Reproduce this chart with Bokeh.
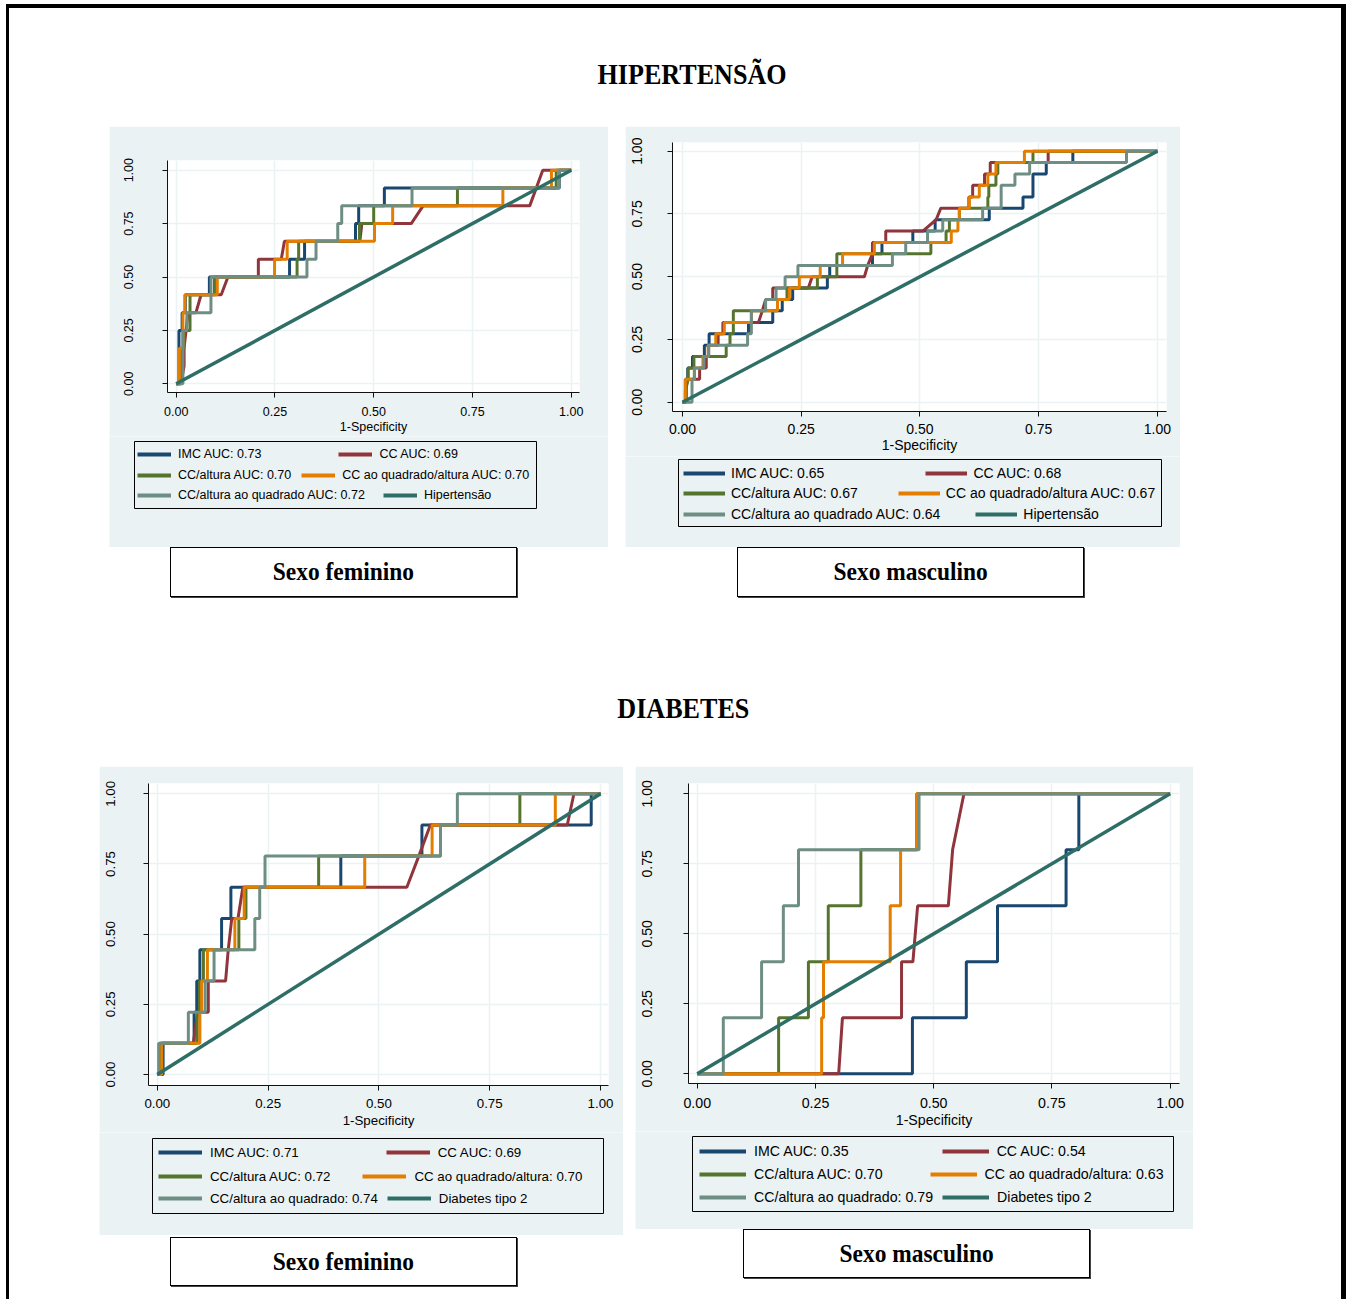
from bokeh.plotting import figure
from bokeh.models import (Range1d, FixedTicker, NumeralTickFormatter, Legend, LegendItem,
                          BoxAnnotation, Div, Spacer)
from bokeh.layouts import column, row
from bokeh.embed import file_html
from bokeh.resources import INLINE

# ---------------- data ----------------
TICKS = [0.0, 0.25, 0.50, 0.75, 1.00]
SERIES_COLORS = ["#1A476F", "#90353B", "#55752F", "#E37E00", "#6E8E84"]
REF_COLOR = "#2E6E67"
REF_X = [0.0, 1.0]
REF_Y = [0.0, 1.0]

# Hipertensão - sexo feminino
HF_LABELS = ["IMC AUC: 0.73", "CC AUC: 0.69", "CC/altura AUC: 0.70",
             "CC ao quadrado/altura AUC: 0.70", "CC/altura ao quadrado AUC: 0.72", "Hipertensão"]
HF_IMC_X = [0, 0.007, 0.007, 0.015, 0.015, 0.023, 0.023, 0.084, 0.084, 0.287, 0.287, 0.325, 0.325, 0.454, 0.454, 0.462, 0.462, 0.527, 0.527, 0.970, 0.970, 1]
HF_IMC_Y = [0, 0, 0.25, 0.25, 0.333, 0.333, 0.417, 0.417, 0.5, 0.5, 0.583, 0.583, 0.667, 0.667, 0.75, 0.75, 0.833, 0.833, 0.917, 0.917, 1, 1]
HF_CC_X = [0, 0.012, 0.020, 0.020, 0.025, 0.030, 0.050, 0.063, 0.114, 0.131, 0.208, 0.208, 0.266, 0.274, 0.465, 0.470, 0.595, 0.625, 0.895, 0.928, 1]
HF_CC_Y = [0, 0, 0.083, 0.167, 0.25, 0.333, 0.333, 0.417, 0.417, 0.5, 0.5, 0.583, 0.583, 0.667, 0.667, 0.75, 0.75, 0.833, 0.833, 1, 1]
HF_CCA_X = [0, 0.011, 0.011, 0.020, 0.020, 0.035, 0.035, 0.097, 0.097, 0.306, 0.306, 0.310, 0.310, 0.464, 0.464, 0.500, 0.500, 0.712, 0.712, 0.962, 0.962, 1]
HF_CCA_Y = [0, 0, 0.167, 0.167, 0.25, 0.25, 0.417, 0.417, 0.5, 0.5, 0.583, 0.583, 0.667, 0.667, 0.75, 0.75, 0.833, 0.833, 0.917, 0.917, 1, 1]
HF_CCQA_X = [0, 0.008, 0.008, 0.017, 0.017, 0.022, 0.022, 0.104, 0.104, 0.249, 0.249, 0.281, 0.281, 0.502, 0.502, 0.548, 0.548, 0.827, 0.827, 0.950, 0.950, 1]
HF_CCQA_Y = [0, 0, 0.167, 0.167, 0.333, 0.333, 0.417, 0.417, 0.5, 0.5, 0.583, 0.583, 0.667, 0.667, 0.75, 0.75, 0.833, 0.833, 0.917, 0.917, 1, 1]
HF_CCAQ_X = [0, 0.017, 0.017, 0.027, 0.027, 0.088, 0.088, 0.331, 0.331, 0.354, 0.354, 0.409, 0.409, 0.419, 0.419, 0.597, 0.597, 0.970, 0.970, 1]
HF_CCAQ_Y = [0, 0, 0.25, 0.25, 0.333, 0.333, 0.5, 0.5, 0.583, 0.583, 0.667, 0.667, 0.75, 0.75, 0.833, 0.833, 0.917, 0.917, 1, 1]

# Hipertensão - sexo masculino
HM_LABELS = ["IMC AUC: 0.65", "CC AUC: 0.68", "CC/altura AUC: 0.67",
             "CC ao quadrado/altura AUC: 0.67", "CC/altura ao quadrado AUC: 0.64", "Hipertensão"]
HM_IMC_X = [0, 0.006, 0.006, 0.011, 0.011, 0.021, 0.021, 0.046, 0.046, 0.056, 0.056, 0.139, 0.139, 0.190, 0.190, 0.210, 0.210, 0.232, 0.232, 0.305, 0.305, 0.310, 0.310, 0.400, 0.400, 0.420, 0.420, 0.485, 0.485, 0.532, 0.532, 0.646, 0.646, 0.717, 0.717, 0.738, 0.738, 0.766, 0.766, 0.822, 0.822, 1]
HM_IMC_Y = [0, 0, 0.091, 0.091, 0.136, 0.136, 0.182, 0.182, 0.227, 0.227, 0.273, 0.273, 0.318, 0.318, 0.364, 0.364, 0.409, 0.409, 0.455, 0.455, 0.5, 0.5, 0.545, 0.545, 0.591, 0.591, 0.636, 0.636, 0.682, 0.682, 0.727, 0.727, 0.773, 0.773, 0.818, 0.818, 0.909, 0.909, 0.955, 0.955, 1, 1]
HM_CC_X = [0, 0.008, 0.008, 0.036, 0.036, 0.050, 0.050, 0.055, 0.055, 0.075, 0.075, 0.085, 0.085, 0.160, 0.168, 0.175, 0.190, 0.190, 0.265, 0.273, 0.383, 0.390, 0.400, 0.400, 0.428, 0.428, 0.506, 0.534, 0.544, 0.603, 0.603, 0.611, 0.611, 0.636, 0.636, 0.648, 0.648, 0.770, 0.770, 1]
HM_CC_Y = [0, 0, 0.091, 0.091, 0.136, 0.136, 0.182, 0.182, 0.227, 0.227, 0.273, 0.273, 0.318, 0.318, 0.364, 0.409, 0.409, 0.455, 0.455, 0.5, 0.5, 0.545, 0.591, 0.636, 0.636, 0.682, 0.682, 0.727, 0.773, 0.773, 0.818, 0.818, 0.864, 0.864, 0.909, 0.909, 0.955, 0.955, 1, 1]
HM_CCA_X = [0, 0.006, 0.006, 0.012, 0.012, 0.024, 0.024, 0.092, 0.092, 0.100, 0.100, 0.107, 0.107, 0.200, 0.200, 0.220, 0.220, 0.284, 0.284, 0.325, 0.325, 0.523, 0.523, 0.555, 0.555, 0.562, 0.562, 0.583, 0.583, 0.643, 0.643, 0.645, 0.645, 0.660, 0.660, 0.664, 0.664, 0.738, 0.738, 1]
HM_CCA_Y = [0, 0, 0.045, 0.091, 0.136, 0.136, 0.182, 0.182, 0.227, 0.227, 0.273, 0.273, 0.364, 0.364, 0.409, 0.409, 0.455, 0.455, 0.5, 0.5, 0.591, 0.591, 0.636, 0.636, 0.682, 0.682, 0.727, 0.727, 0.773, 0.773, 0.818, 0.818, 0.864, 0.864, 0.909, 0.909, 0.955, 0.955, 1, 1]
HM_CCQA_X = [0, 0.006, 0.006, 0.025, 0.025, 0.043, 0.043, 0.054, 0.054, 0.070, 0.070, 0.088, 0.088, 0.145, 0.145, 0.200, 0.200, 0.225, 0.225, 0.246, 0.246, 0.290, 0.290, 0.337, 0.337, 0.404, 0.404, 0.566, 0.566, 0.580, 0.580, 0.583, 0.583, 0.604, 0.604, 0.625, 0.625, 0.643, 0.643, 0.660, 0.660, 0.720, 0.720, 1]
HM_CCQA_Y = [0, 0, 0.091, 0.091, 0.136, 0.136, 0.182, 0.182, 0.227, 0.227, 0.273, 0.273, 0.318, 0.318, 0.364, 0.364, 0.409, 0.409, 0.455, 0.455, 0.5, 0.5, 0.545, 0.545, 0.591, 0.591, 0.636, 0.636, 0.682, 0.682, 0.727, 0.727, 0.773, 0.773, 0.818, 0.818, 0.864, 0.864, 0.909, 0.909, 0.955, 0.955, 1, 1]
HM_CCAQ_X = [0, 0.020, 0.020, 0.025, 0.025, 0.045, 0.045, 0.055, 0.055, 0.137, 0.137, 0.145, 0.145, 0.175, 0.175, 0.197, 0.197, 0.216, 0.216, 0.243, 0.243, 0.442, 0.442, 0.470, 0.470, 0.516, 0.516, 0.548, 0.548, 0.632, 0.632, 0.671, 0.671, 0.700, 0.700, 0.731, 0.731, 0.935, 0.935, 1]
HM_CCAQ_Y = [0, 0, 0.091, 0.091, 0.136, 0.136, 0.182, 0.182, 0.227, 0.227, 0.273, 0.273, 0.364, 0.364, 0.409, 0.409, 0.455, 0.455, 0.5, 0.5, 0.545, 0.545, 0.591, 0.591, 0.636, 0.636, 0.682, 0.682, 0.727, 0.727, 0.773, 0.773, 0.864, 0.864, 0.909, 0.909, 0.955, 0.955, 1, 1]

# Diabetes - sexo feminino
DF_LABELS = ["IMC AUC: 0.71", "CC AUC: 0.69", "CC/altura AUC: 0.72",
             "CC ao quadrado/altura: 0.70", "CC/altura ao quadrado: 0.74", "Diabetes tipo 2"]
DF_IMC_X = [0, 0.013, 0.013, 0.083, 0.083, 0.089, 0.089, 0.096, 0.096, 0.145, 0.145, 0.166, 0.166, 0.414, 0.414, 0.597, 0.597, 0.979, 0.979, 1]
DF_IMC_Y = [0, 0, 0.111, 0.111, 0.222, 0.222, 0.333, 0.333, 0.444, 0.444, 0.556, 0.556, 0.667, 0.667, 0.778, 0.778, 0.889, 0.889, 1, 1]
DF_CC_X = [0, 0.008, 0.008, 0.081, 0.091, 0.115, 0.115, 0.154, 0.160, 0.168, 0.182, 0.193, 0.563, 0.590, 0.616, 0.925, 0.940, 1]
DF_CC_Y = [0, 0, 0.111, 0.111, 0.222, 0.222, 0.333, 0.333, 0.444, 0.556, 0.556, 0.667, 0.667, 0.778, 0.889, 0.889, 1, 1]
DF_CCA_X = [0, 0.006, 0.006, 0.090, 0.090, 0.095, 0.095, 0.104, 0.104, 0.184, 0.184, 0.200, 0.200, 0.364, 0.364, 0.639, 0.639, 0.818, 0.818, 1]
DF_CCA_Y = [0, 0, 0.111, 0.111, 0.222, 0.222, 0.333, 0.333, 0.444, 0.444, 0.556, 0.556, 0.667, 0.667, 0.778, 0.778, 0.889, 0.889, 1, 1]
DF_CCQA_X = [0, 0.010, 0.010, 0.096, 0.096, 0.100, 0.100, 0.113, 0.113, 0.175, 0.175, 0.196, 0.196, 0.468, 0.468, 0.620, 0.620, 0.898, 0.898, 1]
DF_CCQA_Y = [0, 0, 0.111, 0.111, 0.222, 0.222, 0.333, 0.333, 0.444, 0.444, 0.556, 0.556, 0.667, 0.667, 0.778, 0.778, 0.889, 0.889, 1, 1]
DF_CCAQ_X = [0, 0.003, 0.003, 0.070, 0.070, 0.108, 0.108, 0.128, 0.128, 0.220, 0.220, 0.231, 0.231, 0.243, 0.243, 0.639, 0.639, 0.677, 0.677, 1]
DF_CCAQ_Y = [0, 0, 0.111, 0.111, 0.222, 0.222, 0.333, 0.333, 0.444, 0.444, 0.556, 0.556, 0.667, 0.667, 0.778, 0.778, 0.889, 0.889, 1, 1]

# Diabetes - sexo masculino
DM_LABELS = ["IMC AUC: 0.35", "CC AUC: 0.54", "CC/altura AUC: 0.70",
             "CC ao quadrado/altura: 0.63", "CC/altura ao quadrado: 0.79", "Diabetes tipo 2"]
DM_IMC_X = [0, 0.455, 0.455, 0.569, 0.569, 0.635, 0.635, 0.780, 0.780, 0.807, 0.807, 1]
DM_IMC_Y = [0, 0, 0.2, 0.2, 0.4, 0.4, 0.6, 0.6, 0.8, 0.8, 1, 1]
DM_CC_X = [0, 0.299, 0.307, 0.432, 0.432, 0.456, 0.466, 0.531, 0.540, 0.564, 1]
DM_CC_Y = [0, 0, 0.2, 0.2, 0.4, 0.4, 0.6, 0.6, 0.8, 1, 1]
DM_CCA_X = [0, 0.172, 0.172, 0.235, 0.235, 0.277, 0.277, 0.346, 0.346, 0.464, 0.464, 1]
DM_CCA_Y = [0, 0, 0.2, 0.2, 0.4, 0.4, 0.6, 0.6, 0.8, 0.8, 1, 1]
DM_CCQA_X = [0, 0.263, 0.263, 0.267, 0.267, 0.408, 0.408, 0.430, 0.430, 0.464, 0.464, 1]
DM_CCQA_Y = [0, 0, 0.2, 0.2, 0.4, 0.4, 0.6, 0.6, 0.8, 0.8, 1, 1]
DM_CCAQ_X = [0, 0.055, 0.055, 0.136, 0.136, 0.182, 0.182, 0.214, 0.214, 0.469, 0.469, 1]
DM_CCAQ_Y = [0, 0, 0.2, 0.2, 0.4, 0.4, 0.6, 0.6, 0.8, 0.8, 1, 1]

# ---------------- styling / layout ----------------
BG = "#EAF2F3"
SANS = "Liberation Sans"
SERIF = "Liberation Serif"

# positions in page pixels of the reference
P1 = dict(x=110, y=127, w=499, h=421, split=437, frame=(168, 161, 580, 393), xr=(-0.022, 1.021), yr=(-0.0407, 1.0454),
          fs=12.5, ystand=29, xstand=9, xlab=1, gw=34, ls=7, lx=138, rows=(455, 475.7, 495.7), sp=(77, 10, 18),
          box=(135, 442, 537, 509))
P2 = dict(x=626, y=127, w=555, h=421, split=457, frame=(673, 143, 1167, 412), xr=(-0.0211, 1.0192), yr=(-0.037, 1.0347),
          fs=14, ystand=25, xstand=7, xlab=0, gw=42, ls=6, lx=684, rows=(474.3, 494.3, 515), sp=(101, 40, 35),
          box=(679, 460, 1162, 527))
P3 = dict(x=100, y=767, w=524, h=469, split=1133, frame=(149, 784, 609, 1086), xr=(-0.0199, 1.018), yr=(-0.0392, 1.0367),
          fs=13.3, ystand=28, xstand=8, xlab=2, gw=44, ls=8, lx=159, rows=(1153.3, 1177.3, 1199.3), sp=(87, 32, 9),
          box=(153, 1139, 604, 1214))
P4 = dict(x=636, y=767, w=558, h=463, split=1132, frame=(689, 784, 1180, 1084), xr=(-0.0186, 1.0199), yr=(-0.0346, 1.0368),
          fs=14.2, ystand=31, xstand=9, xlab=1, gw=47, ls=8, lx=700, rows=(1151.7, 1175, 1197.7), sp=(93, 47, 9),
          box=(693, 1137, 1174, 1212))


def make_plot(P, curves):
    fl, ft, fr, fb = P["frame"]
    h = P["split"] - P["y"]
    p = figure(width=P["w"], height=h, x_range=Range1d(*P["xr"]), y_range=Range1d(*P["yr"]),
               output_backend="svg", toolbar_location=None,
               min_border_left=fl - P["x"], min_border_right=P["x"] + P["w"] - fr,
               min_border_top=ft - P["y"], min_border_bottom=P["split"] - fb)
    p.background_fill_color = "white"
    p.border_fill_color = BG
    p.outline_line_color = None
    p.grid.grid_line_color = BG
    p.grid.grid_line_width = 1.5
    fs = f"{P['fs']}px"
    for ax in (p.xaxis[0], p.yaxis[0]):
        ax.ticker = FixedTicker(ticks=TICKS)
        ax.formatter = NumeralTickFormatter(format="0.00")
        ax.major_tick_out = 5
        ax.major_tick_in = 0
        ax.minor_tick_out = 0
        ax.minor_tick_in = 0
        ax.axis_line_color = "#111111"
        ax.major_tick_line_color = "#111111"
        ax.major_label_text_font = SANS
        ax.major_label_text_font_size = fs
        ax.major_label_text_color = "#000000"
    p.yaxis.major_label_orientation = "vertical"
    p.yaxis.major_label_standoff = P["ystand"]
    p.xaxis.major_label_standoff = P["xstand"]
    p.xaxis.axis_label = "1-Specificity"
    p.xaxis.axis_label_text_font = SANS
    p.xaxis.axis_label_text_font_size = fs
    p.xaxis.axis_label_text_font_style = "normal"
    p.xaxis.axis_label_text_color = "#000000"
    p.xaxis.axis_label_standoff = P["xlab"]
    for (xs, ys), c in zip(curves, SERIES_COLORS):
        p.line(xs, ys, line_color=c, line_width=3)
    p.line(REF_X, REF_Y, line_color=REF_COLOR, line_width=3.5)
    return p


def make_legend(P, curves, labels):
    x0, y0 = P["x"], P["split"]
    w, h = P["w"], P["y"] + P["h"] - P["split"]
    q = figure(width=w, height=h, x_range=Range1d(0, w), y_range=Range1d(h, 0),
               output_backend="svg", toolbar_location=None, x_axis_type=None, y_axis_type=None,
               min_border=0, min_border_left=0, min_border_right=0, min_border_top=0, min_border_bottom=0)
    q.outline_line_color = None
    q.background_fill_color = BG
    q.border_fill_color = BG
    # hidden copies of the curves: only their legend glyphs are shown
    rends = [q.line(xs, ys, line_color=c, line_width=4, visible=False)
             for (xs, ys), c in zip(curves, SERIES_COLORS)]
    rends.append(q.line(REF_X, REF_Y, line_color=REF_COLOR, line_width=4, visible=False))
    bl, bt, br, bb = P["box"]
    q.add_layout(BoxAnnotation(left=bl - x0, right=br - x0, top=bt - y0, bottom=bb - y0,
                               fill_color=None, fill_alpha=0, line_color="#000000",
                               line_alpha=1, line_width=1))
    lh = 16
    fs = f"{P['fs']}px"
    for r_i, (i1, i2) in enumerate([(0, 1), (2, 3), (4, 5)]):
        items = [LegendItem(label=labels[i1], renderers=[rends[i1]]),
                 LegendItem(label=labels[i2], renderers=[rends[i2]])]
        leg = Legend(items=items, orientation="horizontal",
                     location=(P["lx"] - x0, (y0 + h) - (P["rows"][r_i] + lh / 2)),
                     spacing=P["sp"][r_i], padding=0, margin=0,
                     glyph_width=P["gw"], glyph_height=lh, label_height=lh,
                     label_standoff=P["ls"], label_text_font=SANS, label_text_font_size=fs,
                     label_text_color="#000000", border_line_color=None, background_fill_alpha=0,
                     inactive_fill_alpha=0)
        q.add_layout(leg, "center")
    return q


def title_div(text, w, h, pad_top, pad_left):
    html = (f'<div style="width:{w}px;height:{h}px;box-sizing:border-box;padding-top:{pad_top}px;'
            f'padding-left:{pad_left}px;text-align:center;font-family:\'{SERIF}\';font-weight:bold;'
            f'font-size:29px;line-height:32px;color:#000;">'
            f'<span style="display:inline-block;transform:scaleX(0.9)">{text}</span></div>')
    return Div(text=html, width=w, height=h, margin=0)


def box_div(text, w=347, h=50):
    html = (f'<div style="width:{w}px;height:{h}px;box-sizing:border-box;border:1px solid #000;'
            f'box-shadow:1px 1px 0 #444;background:#fff;display:flex;align-items:center;'
            f'justify-content:center;font-family:\'{SERIF}\';font-weight:bold;font-size:26px;color:#000;">'
            f'<span style="display:inline-block;transform:scaleX(0.9)">{text}</span></div>')
    return Div(text=html, width=w + 2, height=h + 2, margin=0)


def panel(P, curves, labels):
    # each figure wrapped in its own row so the two frames are not aligned
    return column(row(make_plot(P, curves)), row(make_legend(P, curves, labels)))


C1 = [(HF_IMC_X, HF_IMC_Y), (HF_CC_X, HF_CC_Y), (HF_CCA_X, HF_CCA_Y), (HF_CCQA_X, HF_CCQA_Y), (HF_CCAQ_X, HF_CCAQ_Y)]
C2 = [(HM_IMC_X, HM_IMC_Y), (HM_CC_X, HM_CC_Y), (HM_CCA_X, HM_CCA_Y), (HM_CCQA_X, HM_CCQA_Y), (HM_CCAQ_X, HM_CCAQ_Y)]
C3 = [(DF_IMC_X, DF_IMC_Y), (DF_CC_X, DF_CC_Y), (DF_CCA_X, DF_CCA_Y), (DF_CCQA_X, DF_CCQA_Y), (DF_CCAQ_X, DF_CCAQ_Y)]
C4 = [(DM_IMC_X, DM_IMC_Y), (DM_CC_X, DM_CC_Y), (DM_CCA_X, DM_CCA_Y), (DM_CCQA_X, DM_CCQA_Y), (DM_CCAQ_X, DM_CCAQ_Y)]

pan1 = panel(P1, C1, HF_LABELS)
pan2 = panel(P2, C2, HM_LABELS)
pan3 = panel(P3, C3, DF_LABELS)
pan4 = panel(P4, C4, DM_LABELS)

sec_a = title_div("HIPERTENSÃO", 1332, 118, 50, 34)
col1 = column(pan1, row(Spacer(width=61, height=52), box_div("Sexo feminino")))
col2 = column(pan2, row(Spacer(width=112, height=52), box_div("Sexo masculino")))
sec_b = row(Spacer(width=100, height=473), col1, Spacer(width=17, height=473), col2)
sec_d = title_div("DIABETES", 1332, 167, 93, 16)
col3 = column(pan3, Spacer(width=10, height=2), row(Spacer(width=71, height=52), box_div("Sexo feminino", h=49)))
col4 = column(pan4, row(Spacer(width=108, height=52), box_div("Sexo masculino", h=49)))
sec_e = row(Spacer(width=90, height=10), col3, Spacer(width=12, height=10), col4)

root = column(sec_a, sec_b, sec_d, sec_e, Spacer(width=10, height=10),
              styles={"margin-left": "9px", "margin-top": "8px",
                      "box-shadow": "-3px 0 0 0 #000, 5px 0 0 0 #000, 0 -4px 0 0 #000, "
                                    "-3px -4px 0 0 #000, 5px -4px 0 0 #000"})

open("out.html", "w").write(file_html(root, INLINE))
